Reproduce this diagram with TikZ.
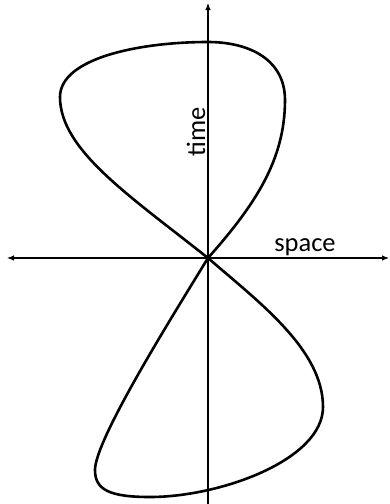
\documentclass[tikz,border=0pt]{standalone}
\usepackage{fontspec}
\setmainfont{Carlito}
\usetikzlibrary{arrows.meta}
\tikzset{
  axis/.style={line width=1.1pt, -{Latex[length=7pt,width=5.5pt]}},
  curve/.style={line width=2.6pt, line join=round},
  lbl/.style={font=\fontsize{26.5}{30}\selectfont, inner sep=0pt}
}
\begin{document}
\begin{tikzpicture}[x=1pt, y=-1pt]
\useasboundingbox (0,0) rectangle (390,504);
\coordinate (O) at (208,258);
\coordinate (L) at (7,258);
\coordinate (R) at (389,258);
\coordinate (T) at (208,3);
\coordinate (B) at (208,504);
% axes
\draw[axis] (O) -- (L);
\draw[axis] (O) -- (R);
\draw[axis] (B) -- (T);
% figure-eight curve
\draw[curve] (O)
  .. controls (130,196) and (60,150) .. (60,97)
  .. controls (60,58) and (140,42) .. (208,42)
  .. controls (250,42) and (285,60) .. (285,100)
  .. controls (285,160) and (255,205) .. (O)
  .. controls (260,303) and (323,350) .. (323,407)
  .. controls (323,460) and (220,497) .. (150,497)
  .. controls (110,497) and (95,490) .. (95,470)
  .. controls (95,440) and (170,320) .. (O) -- cycle;
% labels
\node[lbl, anchor=base, rotate=90] (time) at (205,132) {time};
\node[lbl, anchor=base] (space) at (305,251) {space};
\end{tikzpicture}
\end{document}
